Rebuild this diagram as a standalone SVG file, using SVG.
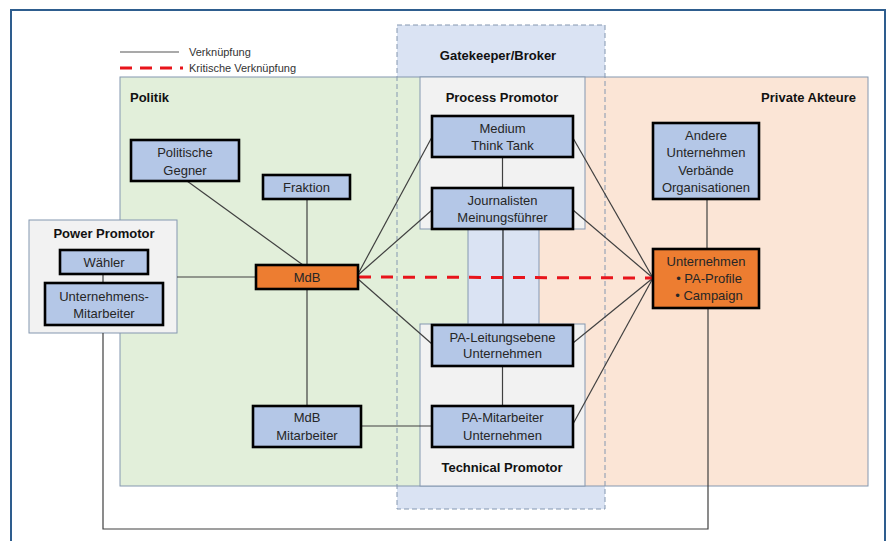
<svg xmlns="http://www.w3.org/2000/svg" width="893" height="541" viewBox="0 0 893 541">
<style>
text{font-family:"Liberation Sans",Arial,sans-serif;fill:#262626}
.n{font-size:13px;text-anchor:middle}
.t{font-size:13px;font-weight:bold;fill:#111}
.lg{font-size:11px;fill:#333}
.node rect{fill:#b4c7e7;stroke:#000;stroke-width:2.6}
.node.o rect{fill:#ed7d31}
.reg{stroke:#8497b0;stroke-width:1}
.c line,.c polyline{stroke:#404040;stroke-width:1.2;fill:none}
.c line.red,line.red{stroke:#e8141b;stroke-width:3;stroke-dasharray:12 10;fill:none}
</style>
<rect width="893" height="541" fill="#fff"/>
<rect x="11" y="10" width="874" height="545" fill="#fff" stroke="#2e5d8e" stroke-width="2"/>
<g id="regions">
<rect x="397" y="25" width="208" height="484" fill="#dae3f3"/>
<rect x="120" y="77" width="383" height="409" fill="#e2efda"/>
<rect x="503" y="77" width="365" height="409" fill="#fbe5d6"/>
<rect x="120" y="77" width="748" height="409" fill="none" class="reg"/>
<rect x="420" y="77" width="165" height="152" fill="#f2f2f2" class="reg"/>
<rect x="420" y="324" width="165" height="162" fill="#f2f2f2" class="reg"/>
<rect x="468" y="229" width="35" height="95" fill="#dae3f3" class="reg"/>
<rect x="503" y="229" width="36" height="95" fill="#dae3f3" class="reg"/>
<rect x="397" y="25" width="208" height="484" fill="none" stroke="#8497b0" stroke-width="1" stroke-dasharray="5 3"/>
<rect x="29" y="220" width="148" height="113" fill="#f2f2f2" class="reg"/>
<text class="t" x="498" y="59.5" text-anchor="middle">Gatekeeper/Broker</text>
<text class="t" x="502" y="101.5" text-anchor="middle">Process Promotor</text>
<text class="t" x="502" y="471.5" text-anchor="middle">Technical Promotor</text>
<text class="t" x="130" y="101.5">Politik</text>
<text class="t" x="856" y="101.5" text-anchor="end">Private Akteure</text>
<text class="t" x="104" y="237.5" text-anchor="middle">Power Promotor</text>
</g>
<g id="legend">
<line x1="120" y1="52" x2="179" y2="52" stroke="#555" stroke-width="1.2"/>
<line x1="120" y1="68" x2="183" y2="68" stroke="#e8141b" stroke-width="3" stroke-dasharray="12 8"/>
<text class="lg" x="189" y="56">Verknüpfung</text>
<text class="lg" x="189" y="72">Kritische Verknüpfung</text>
</g>
<g id="connectors" class="c">
<line x1="187" y1="181" x2="303" y2="265"/>
<line x1="307" y1="199" x2="307" y2="265"/>
<line x1="177" y1="277" x2="256" y2="277"/>
<line x1="103" y1="274" x2="103" y2="283"/>
<line x1="307" y1="289" x2="307" y2="406"/>
<line x1="358" y1="274" x2="432" y2="137"/>
<line x1="358" y1="275" x2="432" y2="210"/>
<line x1="358" y1="279" x2="432" y2="344"/>
<line x1="573" y1="138" x2="653" y2="278"/>
<line x1="573" y1="210" x2="653" y2="278"/>
<line x1="573" y1="343" x2="653" y2="278"/>
<line x1="573" y1="424" x2="653" y2="278"/>
<line x1="502.5" y1="157" x2="502.5" y2="188"/>
<line x1="503" y1="229" x2="503" y2="325"/>
<line x1="502.5" y1="366" x2="502.5" y2="406"/>
<line x1="361" y1="426" x2="432" y2="426"/>
<line x1="707" y1="199" x2="707" y2="249"/>
<polyline points="103,333 103,529 708,529 708,308"/>
<line class="red" x1="359" y1="277" x2="653" y2="278"/>
</g>
<g id="n-gegner" class="node"><rect x="131" y="140" width="108" height="41"/><text class="n" x="185" y="157">Politische</text><text class="n" x="185" y="175">Gegner</text></g>
<g id="n-fraktion" class="node"><rect x="263" y="175" width="87" height="24"/><text class="n" x="306.5" y="191.5">Fraktion</text></g>
<g id="n-mdb" class="node o"><rect x="256" y="265" width="102" height="24"/><text class="n" x="307" y="281.5">MdB</text></g>
<g id="n-waehler" class="node"><rect x="60" y="250" width="88" height="24"/><text class="n" x="104" y="266.5">Wähler</text></g>
<g id="n-um" class="node"><rect x="45" y="283" width="118" height="42"/><text class="n" x="104" y="300.5">Unternehmens-</text><text class="n" x="104" y="317.5">Mitarbeiter</text></g>
<g id="n-mdbm" class="node"><rect x="253" y="406" width="108" height="41"/><text class="n" x="307" y="421.5">MdB</text><text class="n" x="307" y="439.5">Mitarbeiter</text></g>
<g id="n-medium" class="node"><rect x="432" y="116" width="141" height="41"/><text class="n" x="502.5" y="132.5">Medium</text><text class="n" x="502.5" y="149.5">Think Tank</text></g>
<g id="n-journ" class="node"><rect x="432" y="188" width="141" height="41"/><text class="n" x="502.5" y="204.5">Journalisten</text><text class="n" x="502.5" y="221.5">Meinungsführer</text></g>
<g id="n-paleit" class="node"><rect x="432" y="325" width="141" height="41"/><text class="n" x="502.5" y="341.5">PA-Leitungsebene</text><text class="n" x="502.5" y="358">Unternehmen</text></g>
<g id="n-pamit" class="node"><rect x="432" y="406" width="141" height="41"/><text class="n" x="502.5" y="421.5">PA-Mitarbeiter</text><text class="n" x="502.5" y="439.5">Unternehmen</text></g>
<g id="n-andere" class="node"><rect x="653" y="123" width="106" height="76"/><text class="n" x="706" y="139.5">Andere</text><text class="n" x="706" y="156.5">Unternehmen</text><text class="n" x="706" y="174.5">Verbände</text><text class="n" x="706" y="191.5">Organisationen</text></g>
<g id="n-unternehmen" class="node o"><rect x="653" y="249" width="106" height="59"/><text class="n" x="706" y="265.5">Unternehmen</text><text class="n" x="709" y="282.5">• PA-Profile</text><text class="n" x="709" y="299.5">• Campaign</text></g>
</svg>
